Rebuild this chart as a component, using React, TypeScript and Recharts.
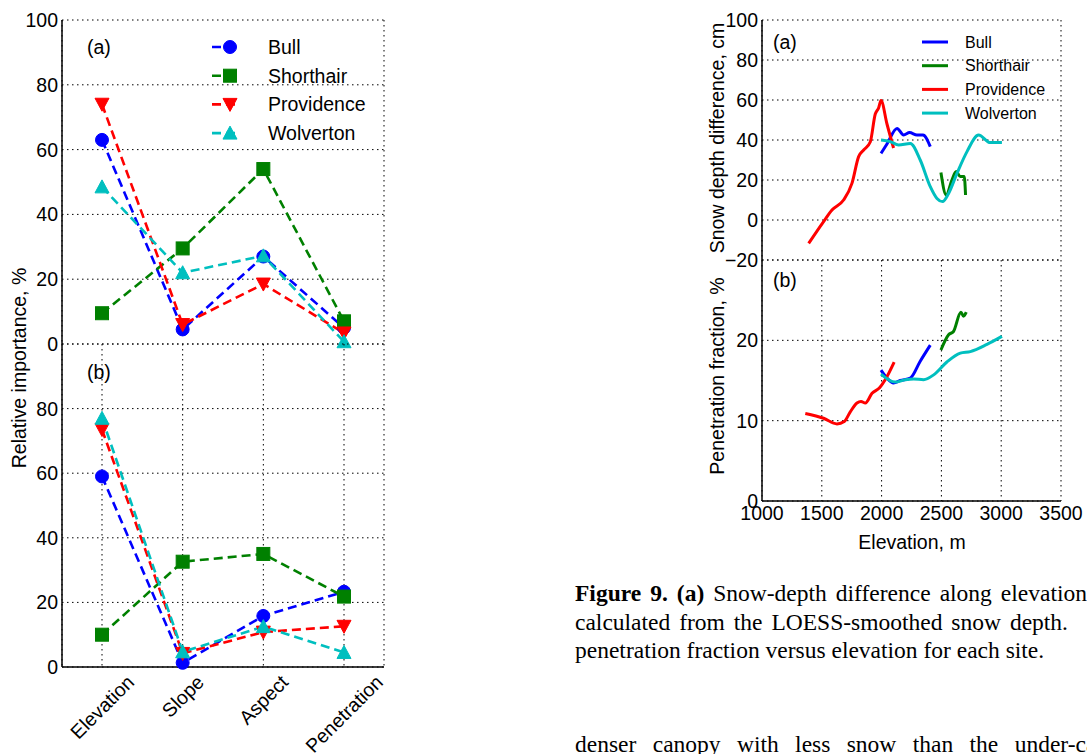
import React from 'react';
import { LineChart, Line, XAxis, YAxis, CartesianGrid } from 'recharts';

// ---------- categories / sites ----------
const factors = ['Elevation', 'Slope', 'Aspect', 'Penetration'];
const siteNames = ['Bull', 'Shorthair', 'Providence', 'Wolverton'];
const siteColors = ['#0000FF', '#008000', '#FF0000', '#00BFBF'];
const siteMarkers = ['circle', 'square', 'triangleDown', 'triangleUp'];

// ---------- relative importance, panel (a) ----------
const bullA = [63, 4.5, 27, 5];
const shorthairA = [9.5, 29.5, 54, 7];
const providenceA = [74, 6, 18.5, 3.4];
const wolvertonA = [48.5, 22, 27.2, 0.7];

// ---------- relative importance, panel (b) ----------
const bullB = [59, 1.3, 15.8, 23.3];
const shorthairB = [10, 32.6, 35, 21.8];
const providenceB = [73.5, 4.2, 10.8, 12.6];
const wolvertonB = [77, 4.7, 12.5, 4.5];

const importanceTicksA = [0, 20, 40, 60, 80, 100];
const importanceTicksB = [0, 20, 40, 60, 80];

// ---------- snow depth difference vs elevation ----------
const bullDepthElev = [1995, 2045, 2129, 2184, 2234, 2296, 2346, 2407];
const bullDepth = [33.3, 38, 45.8, 42.5, 43.7, 42.5, 42.5, 36.7];
const shorthairDepthElev = [2496, 2540, 2588, 2624, 2658, 2691, 2702];
const shorthairDepth = [23.7, 12.5, 20, 24.2, 21.7, 21.7, 12.5];
const providenceDepthElev = [1390, 1515, 1585, 1682, 1752, 1808, 1850, 1905, 1947, 1975, 1995, 2045, 2100];
const providenceDepth = [-11.7, -0.8, 5, 10, 18.3, 31.7, 35, 39, 53, 56, 59.7, 48, 36];
const wolvertonDepthElev = [1995, 2072, 2142, 2240, 2323, 2407, 2463, 2510, 2560, 2630, 2714, 2811, 2909, 3006];
const wolvertonDepth = [40, 39.2, 37.5, 38.3, 30, 16.7, 10.8, 9.2, 13.3, 23.3, 34.2, 42.5, 38.7, 38.7];

// ---------- penetration fraction vs elevation ----------
const bullPenElev = [1995, 2045, 2100, 2156, 2240, 2323, 2407];
const bullPen = [16.3, 15.3, 14.7, 15, 15.3, 17.4, 19.4];
const shorthairPenElev = [2496, 2560, 2601, 2663, 2685, 2708];
const shorthairPen = [18.8, 20.7, 21.1, 23.5, 23.0, 23.5];
const providencePenElev = [1362, 1515, 1627, 1688, 1738, 1794, 1828, 1864, 1920, 1983, 2030, 2105];
const providencePen = [10.9, 10.3, 9.6, 9.9, 11.1, 12.2, 12.4, 12.2, 13.4, 14.1, 15.1, 17.3];
const wolvertonPenElev = [1995, 2114, 2198, 2268, 2351, 2435, 2546, 2658, 2742, 2881, 3006];
const wolvertonPen = [15.8, 14.8, 15.1, 15.2, 15.1, 15.7, 17.3, 18.4, 18.6, 19.5, 20.5];

const elevTicks = [1000, 1500, 2000, 2500, 3000, 3500];
const depthTicks = [-20, 0, 20, 40, 60, 80, 100];
const penTicks = [0, 10, 20];

// ---------- text ----------
const leftYTitle = 'Relative importance, %';
const depthYTitle = 'Snow depth difference, cm';
const penYTitle = 'Penetration fraction, %';
const elevXTitle = 'Elevation, m';

// ---------- derived tables ----------
const buildTable = (vals: number[][]) =>
  factors.map((f, i) => {
    const row: any = { factor: f };
    siteNames.forEach((s, k) => (row[s] = vals[k][i]));
    return row;
  });
const importanceA = buildTable([bullA, shorthairA, providenceA, wolvertonA]);
const importanceB = buildTable([bullB, shorthairB, providenceB, wolvertonB]);

const toSeries = (xs: number[], ys: number[]) => xs.map((x, i) => ({ elev: x, v: ys[i] }));
const depthSeries = [
  toSeries(bullDepthElev, bullDepth),
  toSeries(shorthairDepthElev, shorthairDepth),
  toSeries(providenceDepthElev, providenceDepth),
  toSeries(wolvertonDepthElev, wolvertonDepth),
];
const penSeries = [
  toSeries(bullPenElev, bullPen),
  toSeries(shorthairPenElev, shorthairPen),
  toSeries(providencePenElev, providencePen),
  toSeries(wolvertonPenElev, wolvertonPen),
];

// ---------- styles ----------
const SANS = '"Liberation Sans", Arial, Helvetica, sans-serif';
const SERIF = '"Liberation Serif", "Times New Roman", serif';
const FS = 19.5;
const tickStyle = { fontSize: FS, fill: '#000', fontFamily: SANS };
const frame = { stroke: '#000', strokeWidth: 1.5 };
const gridStroke = { stroke: '#000', strokeDasharray: '1.5 3.5', strokeWidth: 1 };
const minusFmt = (v: number) => (v < 0 ? '\u2212' + Math.abs(v) : String(v));

let measureCtx: CanvasRenderingContext2D | null = null;
function measure(text: string, size: number) {
  try {
    if (!measureCtx) measureCtx = document.createElement('canvas').getContext('2d');
    if (measureCtx) {
      measureCtx.font = `${size}px "Liberation Sans"`;
      return measureCtx.measureText(text).width;
    }
  } catch (e) {}
  return text.length * size * 0.52;
}

function markerShape(marker: string, cx: number, cy: number, color: string, key?: string) {
  const s = 6.5;
  if (marker === 'circle') return <circle key={key} cx={cx} cy={cy} r={s} fill={color} stroke={color} />;
  if (marker === 'square') return <rect key={key} x={cx - s} y={cy - s} width={2 * s} height={2 * s} fill={color} stroke={color} />;
  if (marker === 'triangleDown')
    return <polygon key={key} points={`${cx - 7},${cy - 6} ${cx + 7},${cy - 6} ${cx},${cy + 7}`} fill={color} stroke={color} />;
  return <polygon key={key} points={`${cx - 7},${cy + 6} ${cx + 7},${cy + 6} ${cx},${cy - 7}`} fill={color} stroke={color} />;
}

const makeDot = (marker: string, color: string) => (props: any) => {
  const { cx, cy, index } = props;
  if (cx == null || cy == null) return <g key={`d-${index}`} />;
  return markerShape(marker, cx, cy, color, `d-${index}`);
};

const RotatedTick = (props: any) => {
  const { x, y, payload } = props;
  const label = String(payload.value);
  const w = measure(label, FS);
  const h = FS * 0.95;
  const cy = y + ((w + h) * Math.SQRT1_2) / 2;
  return (
    <text x={x} y={cy} transform={`rotate(-45, ${x}, ${cy})`} textAnchor="middle" dominantBaseline="central" fontSize={FS} fontFamily={SANS} fill="#000">
      {label}
    </text>
  );
};

function ImportanceChart({ data, ticks, bottomLabels, height, marginTop, marginBottom, xHeight }: any) {
  return (
    <LineChart width={400} height={height} data={data} margin={{ top: marginTop, right: 16, bottom: marginBottom, left: 0 }}>
      <CartesianGrid xAxisId="b" yAxisId="l" {...gridStroke} />
      <XAxis
        xAxisId="b"
        dataKey="factor"
        padding={{ left: 40, right: 40 }}
        height={xHeight}
        axisLine={frame}
        tickLine={false}
        tickSize={0}
        tickMargin={5}
        interval={0}
        tick={bottomLabels ? <RotatedTick /> : false}
      />
      <XAxis xAxisId="t" orientation="top" dataKey="factor" padding={{ left: 40, right: 40 }} height={0} axisLine={frame} tickLine={false} tick={false} />
      <YAxis
        yAxisId="l"
        type="number"
        domain={[0, 100]}
        ticks={ticks}
        interval={0}
        width={62}
        axisLine={frame}
        tickLine={false}
        tickSize={0}
        tickMargin={4}
        tick={tickStyle}
      />
      <YAxis yAxisId="r" orientation="right" type="number" domain={[0, 100]} ticks={[0, 100]} width={0} axisLine={frame} tickLine={false} tick={false} />
      {siteNames.map((s, k) => (
        <Line
          key={s}
          xAxisId="b"
          yAxisId="l"
          dataKey={s}
          type="linear"
          stroke={siteColors[k]}
          strokeWidth={2.6}
          strokeDasharray="9 5"
          dot={makeDot(siteMarkers[k], siteColors[k])}
          activeDot={false}
          isAnimationActive={false}
        />
      ))}
    </LineChart>
  );
}

function ElevChart({ series, yDomain, yTicks, height, marginTop, marginBottom, xHeight, showX }: any) {
  return (
    <LineChart width={397} height={height} margin={{ top: marginTop, right: 26, bottom: marginBottom, left: 0 }}>
      <CartesianGrid xAxisId="b" yAxisId="l" {...gridStroke} />
      <XAxis
        xAxisId="b"
        dataKey="elev"
        type="number"
        domain={[1000, 3500]}
        ticks={elevTicks}
        interval={0}
        allowDataOverflow
        height={xHeight}
        axisLine={frame}
        tickLine={false}
        tickSize={0}
        tickMargin={5}
        tick={showX ? tickStyle : false}
      />
      <XAxis xAxisId="t" orientation="top" dataKey="elev" type="number" domain={[1000, 3500]} ticks={elevTicks} height={0} axisLine={frame} tickLine={false} tick={false} />
      <YAxis
        yAxisId="l"
        type="number"
        domain={yDomain}
        ticks={yTicks}
        interval={0}
        allowDataOverflow
        width={72}
        axisLine={frame}
        tickLine={false}
        tickSize={0}
        tickMargin={4}
        tick={tickStyle}
        tickFormatter={minusFmt}
      />
      <YAxis yAxisId="r" orientation="right" type="number" domain={yDomain} ticks={yTicks} width={0} axisLine={frame} tickLine={false} tick={false} />
      {series.map((d: any[], k: number) => (
        <Line
          key={siteNames[k]}
          xAxisId="b"
          yAxisId="l"
          data={d}
          dataKey="v"
          type="monotone"
          stroke={siteColors[k]}
          strokeWidth={3}
          dot={false}
          activeDot={false}
          isAnimationActive={false}
        />
      ))}
    </LineChart>
  );
}

const leftLegendRows = [47, 75.7, 104.4, 133.1];
const rightLegendRows = [42, 65.7, 89.4, 113.1];

export default function App() {
  return (
    <div style={{ position: 'absolute', left: 0, top: 0, width: 1087, height: 754, overflow: 'hidden', background: '#fff' }}>
      <div style={{ position: 'absolute', left: 0, top: 0 }}>
        <ImportanceChart data={importanceA} ticks={importanceTicksA} bottomLabels={false} height={360} marginTop={20} marginBottom={16} xHeight={0} />
      </div>
      <div style={{ position: 'absolute', left: 0, top: 330 }}>
        <ImportanceChart data={importanceB} ticks={importanceTicksB} bottomLabels={true} height={424} marginTop={14} marginBottom={0} xHeight={87} />
      </div>
      <div style={{ position: 'absolute', left: 690, top: 0 }}>
        <ElevChart series={depthSeries} yDomain={[-20, 100]} yTicks={depthTicks} height={276} marginTop={20} marginBottom={16} xHeight={0} showX={false} />
      </div>
      <div style={{ position: 'absolute', left: 690, top: 246 }}>
        <ElevChart series={penSeries} yDomain={[0, 30]} yTicks={penTicks} height={310} marginTop={14} marginBottom={0} xHeight={55} showX={true} />
      </div>

      <svg width={1087} height={754} style={{ position: 'absolute', left: 0, top: 0, pointerEvents: 'none' }} fontFamily={SANS} fill="#000">
        {/* axis titles */}
        <text x={19} y={368} transform="rotate(-90, 19, 368)" textAnchor="middle" dominantBaseline="central" fontSize={FS}>{leftYTitle}</text>
        <text x={717} y={138} transform="rotate(-90, 717, 138)" textAnchor="middle" dominantBaseline="central" fontSize={FS}>{depthYTitle}</text>
        <text x={717} y={376} transform="rotate(-90, 717, 376)" textAnchor="middle" dominantBaseline="central" fontSize={FS}>{penYTitle}</text>
        <text x={912} y={542} textAnchor="middle" dominantBaseline="central" fontSize={FS}>{elevXTitle}</text>
        {/* panel labels */}
        <text x={87} y={47} dominantBaseline="central" fontSize={FS}>(a)</text>
        <text x={87} y={372} dominantBaseline="central" fontSize={FS}>(b)</text>
        <text x={773} y={42} dominantBaseline="central" fontSize={FS}>(a)</text>
        <text x={773} y={280} dominantBaseline="central" fontSize={FS}>(b)</text>
        {/* left legend */}
        {siteNames.map((s, k) => (
          <g key={'ll' + s}>
            <line x1={212} x2={240} y1={leftLegendRows[k]} y2={leftLegendRows[k]} stroke={siteColors[k]} strokeWidth={2.6} strokeDasharray="9 5" />
            {markerShape(siteMarkers[k], 230, leftLegendRows[k], siteColors[k])}
            <text x={268} y={leftLegendRows[k]} dominantBaseline="central" fontSize={FS}>{s}</text>
          </g>
        ))}
        {/* right legend */}
        {siteNames.map((s, k) => (
          <g key={'rl' + s}>
            <line x1={922} x2={948} y1={rightLegendRows[k]} y2={rightLegendRows[k]} stroke={siteColors[k]} strokeWidth={3} />
            <text x={965} y={rightLegendRows[k]} dominantBaseline="central" fontSize={16}>{s}</text>
          </g>
        ))}
      </svg>

      {/* caption text */}
      <div style={{ position: 'absolute', left: 575, top: 579, fontFamily: SERIF, fontSize: 23.5, lineHeight: '28.5px', color: '#000' }}>
        <div style={{ width: 512, textAlign: 'justify', textAlignLast: 'justify' } as any}>
          <b>Figure 9. (a)</b> Snow-depth difference along elevation
        </div>
        <div style={{ width: 493, textAlign: 'justify', textAlignLast: 'justify' } as any}>
          calculated from the LOESS-smoothed snow depth.
        </div>
        <div style={{ whiteSpace: 'nowrap' }}>penetration fraction versus elevation for each site.</div>
      </div>
      <div style={{ position: 'absolute', left: 575, top: 730, fontFamily: SERIF, fontSize: 23.5, lineHeight: '28.5px', color: '#000', whiteSpace: 'nowrap', wordSpacing: 10.5 }}>
        denser canopy with less snow than the under-canopy
      </div>
    </div>
  );
}
